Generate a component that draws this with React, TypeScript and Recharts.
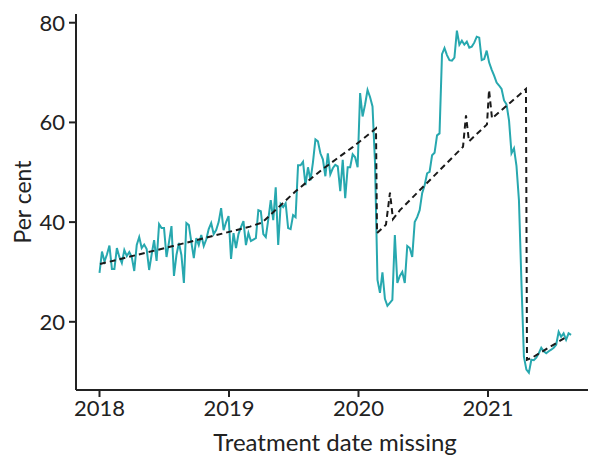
import { LineChart, Line, XAxis, YAxis, Label } from "recharts";

// weekly share of records with a missing treatment date, from the first week of 2018
const firstWeek = 2018;
const weekInYears = 7 / 365.25;
const weeklyShare = [
  29.8, 34.1, 32.1, 33.5, 35.3, 30.6, 30.6, 34.8, 33.0, 31.8,
  34.4, 33.2, 34.0, 33.0, 30.2, 35.4, 37.0, 34.8, 35.5, 34.6,
  30.4, 33.5, 36.4, 32.2, 39.6, 38.8, 38.8, 33.0, 36.0, 39.2,
  29.2, 33.4, 35.8, 33.4, 27.8, 39.8, 39.4, 36.0, 32.8, 36.8,
  35.4, 37.4, 35.2, 36.5, 38.6, 39.8, 37.6, 38.4, 40.0, 42.8,
  38.4, 40.0, 41.2, 32.6, 37.8, 34.8, 37.6, 39.0, 40.2, 35.4,
  37.8, 36.2, 36.5, 36.8, 42.4, 42.2, 37.6, 37.0, 40.5, 44.4,
  40.4, 47.0, 35.4, 43.6, 43.0, 43.8, 38.8, 38.6, 41.4, 41.0,
  51.4, 51.4, 52.1, 47.4, 51.0, 48.4, 52.0, 56.6, 56.2, 53.8,
  52.6, 49.2, 53.8, 49.6, 50.8, 51.5, 51.2, 46.2, 52.5, 44.8,
  51.0, 51.0, 53.6, 53.0, 51.0, 65.9, 61.2, 63.6, 66.5, 65.1,
  63.2, 52.0, 28.4, 25.8, 29.9, 24.6, 23.2, 23.8, 24.4, 37.4,
  27.8, 29.2, 30.0, 27.8, 35.2, 34.8, 33.0, 40.0, 41.0, 42.4,
  45.8, 47.4, 49.8, 50.1, 53.4, 53.9, 57.4, 57.8, 73.7, 74.9,
  73.5, 72.5, 72.4, 73.0, 78.4, 75.6, 76.4, 75.6, 76.2, 75.0,
  75.2, 76.0, 77.2, 77.0, 72.5, 72.7, 74.4, 72.0, 70.6, 69.4,
  68.0, 67.4, 66.7, 64.4, 63.6, 60.4, 53.8, 54.8, 51.3, 44.4,
  28.0, 13.0, 10.4, 9.8, 12.4, 12.3, 12.8, 13.7, 14.8, 14.1,
  13.7, 14.1, 14.4, 14.8, 15.4, 18.0, 17.0, 17.7, 16.4, 17.7,
  17.4,
];

// expected (modelled) share, dashed
const expectedDates = [
  2018.004, 2018.568, 2019.162, 2019.255, 2019.371, 2019.51, 2019.726, 2019.958,
  2020.135, 2020.143, 2020.212, 2020.243, 2020.266, 2020.32, 2020.807, 2020.83,
  2020.853, 2020.992, 2021.008, 2021.031, 2021.293, 2021.301, 2021.34, 2021.595,
];
const expectedShare = [
  31.6, 35.2, 39.1, 39.9, 42.7, 46.1, 50.7, 55.1,
  58.8, 37.8, 39.5, 45.9, 40.6, 42.4, 55.1, 61.4,
  56.2, 59.6, 66.5, 60.8, 66.7, 12.4, 12.8, 16.8,
];

const yearTicks = [2018, 2019, 2020, 2021];
const percentTicks = [20, 40, 60, 80];

const observed = weeklyShare.map((v, i) => ({ date: firstWeek + i * weekInYears, value: v }));
const expected = expectedDates.map((d, i) => ({ date: d, value: expectedShare[i] }));

const font = "Lato, 'Open Sans', sans-serif";
const ink = "#222222";
const tick = { fontSize: 22, fill: ink, fontFamily: font } as const;

export default function App() {
  return (
    <div style={{ width: 588, height: 454 }}>
      <LineChart width={588} height={454} margin={{ top: 6, right: 4, left: 0, bottom: 0 }}>
        <XAxis
          type="number"
          dataKey="date"
          domain={[2017.8185, 2021.803]}
          ticks={yearTicks}
          allowDataOverflow
          height={72}
          tick={tick}
          tickSize={7}
          tickMargin={3}
          stroke={ink}
          strokeWidth={2}
        >
          <Label
            content={({ viewBox }: any) => (
              <text
                x={viewBox.x + viewBox.width / 2 + 1}
                y={443}
                textAnchor="middle"
                fontSize={24}
                fontFamily={font}
                fill={ink}
              >
                Treatment date missing
              </text>
            )}
          />
        </XAxis>
        <YAxis
          type="number"
          domain={[6.32, 81.75]}
          ticks={percentTicks}
          allowDataOverflow
          width={68}
          tick={tick}
          tickSize={7}
          tickMargin={4}
          stroke={ink}
          strokeWidth={2}
        >
          <Label
            content={() => (
              <text
                x={14}
                y={194}
                transform="rotate(-90 14 194)"
                textAnchor="middle"
                dominantBaseline="central"
                fontSize={23}
                fontFamily={font}
                fill={ink}
              >
                Per cent
              </text>
            )}
          />
        </YAxis>
        <Line
          data={observed}
          dataKey="value"
          type="linear"
          stroke="#27a8af"
          strokeWidth={2}
          dot={false}
          isAnimationActive={false}
        />
        <Line
          data={expected}
          dataKey="value"
          type="linear"
          stroke="#1a1a1a"
          strokeWidth={2}
          strokeDasharray="6 4"
          dot={false}
          isAnimationActive={false}
        />
      </LineChart>
    </div>
  );
}
